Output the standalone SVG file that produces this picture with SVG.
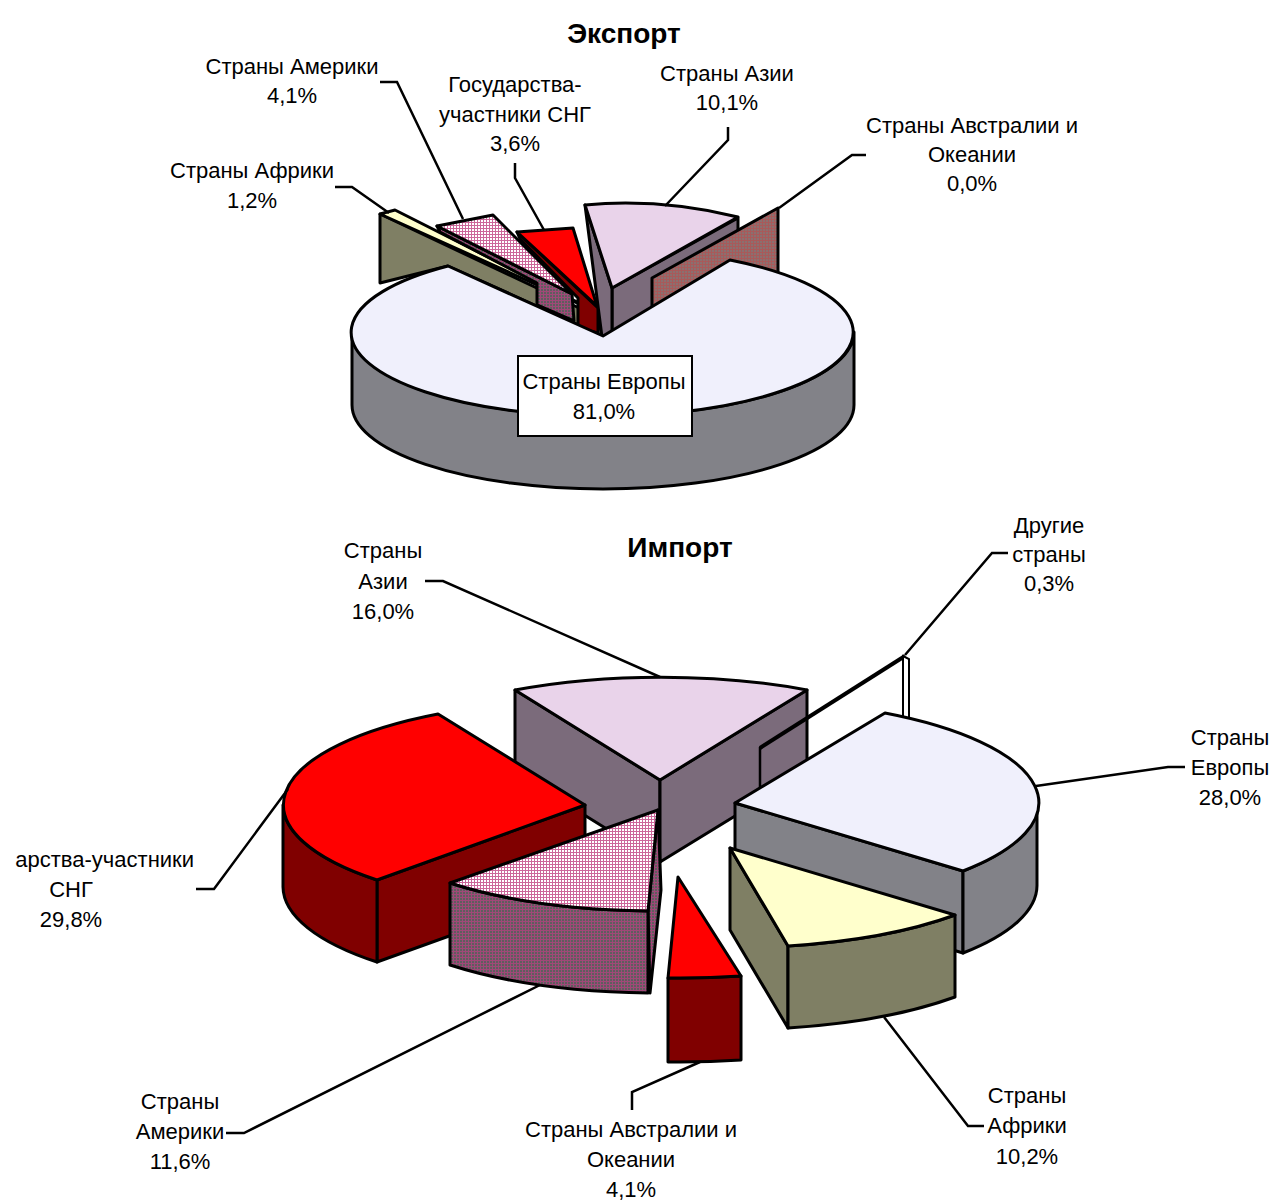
<svg xmlns="http://www.w3.org/2000/svg" width="1273" height="1201" viewBox="0 0 1273 1201">
<style>
.s{stroke:#000;stroke-width:3;stroke-linejoin:round}
.ln{fill:none;stroke:#000;stroke-width:2.5;stroke-linejoin:miter}
text{font-family:"Liberation Sans",Arial,"Noto Sans",sans-serif;font-size:22px;fill:#000;text-anchor:middle}
.ttl{font-size:28px;font-weight:bold}
.euT{fill:#f0f0fc}.euS{fill:#828288}
.asT{fill:#e9d3ea}.asW{fill:#7b6b7b}
.amT{fill:url(#gridTop)}.amW{fill:url(#gridSide)}
.ciT{fill:#ff0000}.ciW{fill:#800000}
.afT{fill:#ffffcc}.afW{fill:#7f7f64}
.auW{fill:url(#gridAus)}
</style>
<defs>
<pattern id="gridTop" width="3" height="3" patternUnits="userSpaceOnUse">
<rect width="3" height="3" fill="#fff"/>
<rect width="3" height="1" fill="#cc6699"/>
<rect width="1" height="3" fill="#cc6699"/>
</pattern>
<pattern id="gridSide" width="3" height="3" patternUnits="userSpaceOnUse">
<rect width="3" height="3" fill="#5e5e5e"/>
<rect width="3" height="1" fill="#a04878"/>
<rect width="1" height="3" fill="#a04878"/>
</pattern>
<pattern id="gridAus" width="3" height="3" patternUnits="userSpaceOnUse">
<rect width="3" height="3" fill="#8a7070"/>
<rect width="3" height="1" fill="#a85a5a"/>
<rect width="1" height="3" fill="#a85a5a"/>
</pattern>
</defs>
<rect width="1273" height="1201" fill="#fff"/>

<!-- ===== EXPORT ===== -->
<text id="export-title" class="ttl" x="624" y="43">Экспорт</text>

<g id="exp-africa">
<polygon class="s afW" points="380,214 596,316 603,336 448,266 380,283"/>
<polygon class="s afT" points="380,214 395,210 597,312"/>
</g>
<g id="exp-america">
<polygon class="s amW" points="437,226 572,294 574,321 537,305 537,283 440,232"/>
<polygon class="s amT" points="437,226 493,215 572,294"/>
</g>
<g id="exp-cis">
<polygon class="s ciW" points="517,232 598,308 598,333 578,328 578,298 520,239"/>
<polygon class="s ciT" points="517,232 573,228 597,306"/>
</g>
<g id="exp-asia">
<polygon class="s asW" points="612,288 738,218 738,262 612,332"/>
</g>
<g id="exp-australia">
<polygon class="s auW" points="652,278 778,208 778,292 652,322"/>
</g>
<g id="exp-asia-top">
<polygon class="s asW" points="585,205 612,288 612,332 602,337"/>
<path class="s asT" d="M585,205 Q660,198 738,217 L612,288 Z"/>
</g>
<g id="exp-europe">
<path class="s euS" d="M352,332 A251,84 0 0 0 854,332 L854,405 A251,84 0 0 1 352,405 Z"/>
<path class="s euT" d="M603,336 L448,266 A251,84 0 1 0 730,260 Z"/>
<rect x="518" y="356" width="174" height="80" fill="#fff" stroke="#000" stroke-width="2"/>
<text x="604" y="389">Страны Европы</text>
<text x="604" y="419">81,0%</text>
</g>

<g id="exp-labels">
<text x="292" y="74">Страны Америки</text>
<text x="292" y="103">4,1%</text>
<text x="515" y="92">Государства-</text>
<text x="515" y="122">участники СНГ</text>
<text x="515" y="151">3,6%</text>
<text x="727" y="81">Страны Азии</text>
<text x="727" y="110">10,1%</text>
<text x="972" y="133">Страны Австралии и</text>
<text x="972" y="162">Океании</text>
<text x="972" y="191">0,0%</text>
<text x="252" y="178">Страны Африки</text>
<text x="252" y="208">1,2%</text>
</g>

<!-- ===== IMPORT ===== -->
<text id="import-title" class="ttl" x="680" y="557">Импорт</text>

<g id="imp-asia">
<polygon class="s asW" points="515,690 660,780 660,862 515,772"/>
<polygon class="s asW" points="660,780 807,690 807,772 660,862"/>
<path class="s asT" d="M660,780 L515,690 A302,103 0 0 1 807,690 Z"/>
</g>
<g id="imp-other">
<line x1="760" y1="747" x2="760" y2="800" stroke="#000" stroke-width="2.5"/>
<line x1="760" y1="748" x2="905" y2="656" stroke="#000" stroke-width="4"/>
<polygon points="903,656 909,659 909,735 903,735" fill="#fff" stroke="#000" stroke-width="2"/>
</g>
<g id="imp-cis">
<polygon class="s ciW" points="377,880 585,805 585,887 377,962"/>
<path class="s ciW" d="M283,805 A302,104 0 0 0 377,880 L377,962 A302,104 0 0 1 283,887 Z"/>
<path class="s ciT" d="M585,805 L438,714 A302,104 0 0 0 377,880 Z"/>
</g>
<g id="imp-america">
<polygon class="s amW" points="658,810 661,890 650,993 648,911"/>
<path class="s amW" d="M450,883 A302,101 0 0 0 648,911 L648,993 A302,101 0 0 1 450,965 Z"/>
<path class="s amT" d="M658,810 L450,883 A302,101 0 0 0 648,911 Z"/>
</g>
<g id="imp-europe">
<polygon class="s euS" points="735,803 963,871 963,953 735,885"/>
<path class="s euS" d="M1037,803 A302,103 0 0 1 963,871 L963,953 A302,103 0 0 0 1037,885 Z"/>
<path class="s euT" d="M735,803 L885,713 A302,103 0 0 1 963,871 Z"/>
</g>
<g id="imp-africa">
<polygon class="s afW" points="730,848 788,946 788,1028 730,930"/>
<path class="s afW" d="M955,915 A302,100 0 0 1 788,946 L788,1028 A302,100 0 0 0 955,997 Z"/>
<path class="s afT" d="M730,848 L955,915 A302,100 0 0 1 788,946 Z"/>
</g>
<g id="imp-australia">
<path class="s ciW" d="M668,978 A302,101 0 0 0 741,976 L741,1060 A302,101 0 0 1 668,1062 Z"/>
<path class="s ciT" d="M678,877 L668,978 A302,101 0 0 0 741,976 Z"/>
</g>

<g id="imp-labels">
<text x="383" y="558">Страны</text>
<text x="383" y="589">Азии</text>
<text x="383" y="619">16,0%</text>
<text x="1049" y="533">Другие</text>
<text x="1049" y="562">страны</text>
<text x="1049" y="591">0,3%</text>
<text x="1230" y="745">Страны</text>
<text x="1230" y="775">Европы</text>
<text x="1230" y="805">28,0%</text>
<text x="194" y="867" style="text-anchor:end">арства-участники</text>
<text x="71" y="897">СНГ</text>
<text x="71" y="927">29,8%</text>
<text x="180" y="1109">Страны</text>
<text x="180" y="1139">Америки</text>
<text x="180" y="1169">11,6%</text>
<text x="631" y="1137">Страны Австралии и</text>
<text x="631" y="1167">Океании</text>
<text x="631" y="1197">4,1%</text>
<text x="1027" y="1103">Страны</text>
<text x="1027" y="1133">Африки</text>
<text x="1027" y="1164">10,2%</text>
</g>

<g id="connectors">
<polyline class="ln" points="380,82 397,82 463,219"/>
<polyline class="ln" points="515,163 515,178 544,230"/>
<polyline class="ln" points="335,187 352,187 389,213"/>
<polyline class="ln" points="728,127 728,140 665,206"/>
<polyline class="ln" points="866,155 852,155 779,208"/>
<polyline class="ln" points="425,581 443,581 660,677"/>
<polyline class="ln" points="1008,553 992,553 905,655"/>
<polyline class="ln" points="1185,767 1168,767 1036,786"/>
<polyline class="ln" points="196,889 214,889 288,789"/>
<polyline class="ln" points="226,1133 244,1133 540,985"/>
<polyline class="ln" points="632,1110 632,1092 700,1062"/>
<polyline class="ln" points="984,1126 968,1126 884,1017"/>
</g>
</svg>
